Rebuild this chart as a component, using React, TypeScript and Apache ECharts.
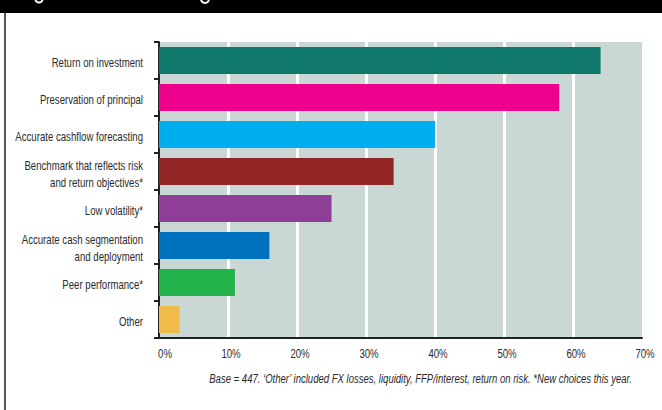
import React, { useEffect, useRef } from "react";
import * as echarts from "echarts";

const categories = [
  "Return on investment",
  "Preservation of principal",
  "Accurate cashflow forecasting",
  "Benchmark that reflects risk\nand return objectives*",
  "Low volatility*",
  "Accurate cash segmentation\nand deployment",
  "Peer performance*",
  "Other",
];
const values = [64, 58, 40, 34, 25, 16, 11, 3];
const barColors = [
  "#10776b",
  "#ec008c",
  "#00aeef",
  "#922626",
  "#8e3e96",
  "#0071bc",
  "#24b24b",
  "#efbb4a",
];
const xTicks = [0, 10, 20, 30, 40, 50, 60, 70];
const footnote =
  "Base = 447. \u2018Other\u2019 included FX losses, liquidity, FFP/interest, return on risk. *New choices this year.";

const FONT = '"Liberation Sans", Arial, sans-serif';
const NARROW = 0.74;

function measure(text: string, font: string): number {
  const c = document.createElement("canvas").getContext("2d");
  if (!c) return 0;
  c.font = font;
  return c.measureText(text).width;
}

export default function App() {
  const ref = useRef<HTMLDivElement>(null);
  useEffect(() => {
    document.body.style.margin = "0";
    if (!ref.current) return;
    const chart = echarts.init(ref.current, null, { renderer: "svg" });
    chart.setOption({
      animation: false,
      backgroundColor: "#ffffff",
      grid: {
        left: 159,
        right: 20,
        top: 42,
        bottom: 72,
        show: true,
        backgroundColor: "#c9d8d5",
        borderWidth: 0,
        containLabel: false,
        outerBoundsMode: "none",
      },
      xAxis: {
        type: "value",
        min: xTicks[0],
        max: xTicks[xTicks.length - 1],
        interval: 10,
        axisLine: { show: true, onZero: false, lineStyle: { color: "#222", width: 2 } },
        axisTick: { show: false },
        axisLabel: { show: false },
        splitLine: {
          show: true,
          showMinLine: false,
          showMaxLine: false,
          lineStyle: { color: "#ffffff", width: 3 },
        },
      },
      yAxis: {
        type: "category",
        inverse: true,
        data: categories,
        axisLine: { show: true, lineStyle: { color: "#222", width: 2 } },
        axisTick: { show: true, length: 5, lineStyle: { color: "#222", width: 2 } },
        axisLabel: { show: false },
        splitLine: { show: false },
      },
      series: [
        {
          type: "bar",
          barWidth: 27,
          data: values.map((v, i) => ({ value: v, itemStyle: { color: barColors[i] } })),
        },
      ],
    });

    const labelFont = `13px ${FONT}`;
    const graphics: any[] = [
      {
        type: "rect",
        left: 0,
        top: 0,
        shape: { width: 662, height: 13 },
        style: { fill: "#000000" },
        z: 10,
      },
      {
        type: "arc",
        shape: { cx: 39, cy: -1, r: 3.5, startAngle: 0, endAngle: Math.PI },
        style: { stroke: "#ffffff", lineWidth: 2, fill: null },
        z: 11,
      },
      {
        type: "arc",
        shape: { cx: 205, cy: -1, r: 4, startAngle: 0, endAngle: Math.PI },
        style: { stroke: "#ffffff", lineWidth: 2, fill: null },
        z: 11,
      },
      {
        type: "rect",
        left: 4,
        top: 13,
        shape: { width: 2, height: 397 },
        style: { fill: "#555555" },
        z: 10,
      },
    ];

    categories.forEach((cat) => {
      const y = chart.convertToPixel({ yAxisIndex: 0 }, cat) as number;
      graphics.push({
        type: "text",
        x: 143,
        y: y + 2,
        scaleX: NARROW,
        style: {
          text: cat,
          fill: "#2a2a2a",
          font: labelFont,
          lineHeight: 17,
          align: "right",
          verticalAlign: "middle",
        },
      });
    });

    const gridBottom = 410 - 72;
    xTicks.forEach((t) => {
      const x = chart.convertToPixel({ xAxisIndex: 0 }, t) as number;
      graphics.push({
        type: "text",
        x: x + (t === 0 ? 6 : 3),
        y: gridBottom + 15,
        scaleX: NARROW,
        style: {
          text: `${t}%`,
          fill: "#2a2a2a",
          font: labelFont,
          align: "center",
          verticalAlign: "middle",
        },
      });
    });

    const footFont = `italic 12px ${FONT}`;
    const fw = measure(footnote, footFont) || 520;
    graphics.push({
      type: "text",
      x: 632,
      y: 379,
      scaleX: 424 / fw,
      style: {
        text: footnote,
        fill: "#2a2a2a",
        font: footFont,
        align: "right",
        verticalAlign: "middle",
      },
    });

    chart.setOption({ graphic: graphics });
    return () => chart.dispose();
  }, []);
  return <div ref={ref} style={{ width: 662, height: 410 }} />;
}
